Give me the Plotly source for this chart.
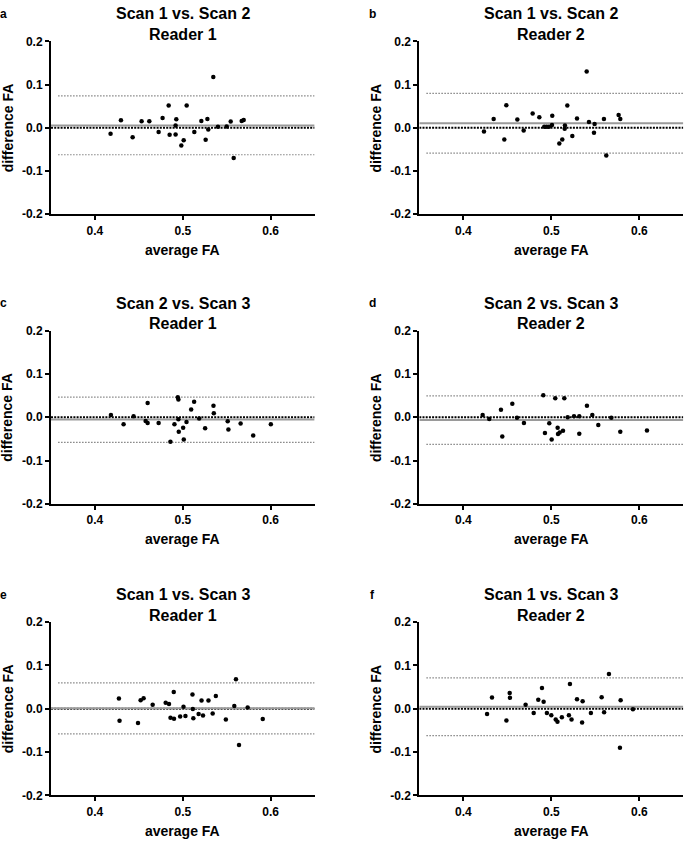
import plotly.graph_objects as go

# ---------------- data ----------------
a_x = [0.4178, 0.4296, 0.4429, 0.4531, 0.4619, 0.4725, 0.4770, 0.4839, 0.4850, 0.4918,
       0.4926, 0.4918, 0.4983, 0.5010, 0.5044, 0.5131, 0.5211, 0.5260, 0.5280, 0.5290,
       0.5347, 0.5400, 0.5499, 0.5545, 0.5579, 0.5670, 0.5693]
a_y = [-0.0137, 0.0175, -0.0220, 0.0152, 0.0152, -0.0099, 0.0228, 0.0517, -0.0160, 0.0053,
       0.0198, -0.0152, -0.0410, -0.0290, 0.0517, -0.0099, 0.0160, -0.0274, 0.0205, -0.0038,
       0.1179, 0.0023, 0.0030, 0.0144, -0.0700, 0.0160, 0.0183]

b_x = [0.4235, 0.4345, 0.4466, 0.4489, 0.4614, 0.4686, 0.4788, 0.4864, 0.4920, 0.4947,
       0.4973, 0.5011, 0.5008, 0.5091, 0.5125, 0.5155, 0.5152, 0.5182, 0.5239, 0.5292,
       0.5402, 0.5428, 0.5485, 0.5492, 0.5598, 0.5625, 0.5765, 0.5784]
b_y = [-0.0084, 0.0205, -0.0273, 0.0524, 0.0190, -0.0061, 0.0334, 0.0243, 0.0023, 0.0023,
       0.0023, 0.0281, 0.0068, -0.0364, -0.0273, 0.0053, -0.0023, 0.0516, -0.0190, 0.0213,
       0.1306, 0.0137, -0.0114, 0.0091, 0.0205, -0.0638, 0.0296, 0.0205]

c_x = [0.4182, 0.4326, 0.4440, 0.4577, 0.4600, 0.4600, 0.4725, 0.4859, 0.4905, 0.4943,
       0.4950, 0.4950, 0.4954, 0.5004, 0.5011, 0.5042, 0.5095, 0.5129, 0.5186, 0.5254,
       0.5349, 0.5353, 0.5511, 0.5519, 0.5658, 0.5801, 0.6002]
c_y = [0.0053, -0.0160, 0.0023, -0.0084, 0.0327, -0.0129, -0.0129, -0.0562, -0.0160, 0.0463,
       0.0410, -0.0046, -0.0334, -0.0243, -0.0509, -0.0106, 0.0182, 0.0357, -0.0030, -0.0251,
       0.0266, 0.0091, -0.0091, -0.0281, -0.0144, -0.0418, -0.0160]

d_x = [0.4220, 0.4295, 0.4428, 0.4443, 0.4557, 0.4610, 0.4689, 0.4909, 0.4928, 0.4977,
       0.5004, 0.5045, 0.5072, 0.5076, 0.5095, 0.5133, 0.5148, 0.5186, 0.5258, 0.5318,
       0.5318, 0.5405, 0.5466, 0.5534, 0.5682, 0.5784, 0.6087]
d_y = [0.0053, -0.0038, 0.0175, -0.0440, 0.0311, -0.0008, -0.0129, 0.0509, -0.0364, -0.0137,
       -0.0509, 0.0440, -0.0243, -0.0387, -0.0349, -0.0311, 0.0440, 0.0000, 0.0023, 0.0023,
       -0.0380, 0.0266, 0.0053, -0.0175, -0.0008, -0.0334, -0.0304]

e_x = [0.4273, 0.4280, 0.4490, 0.4520, 0.4554, 0.4657, 0.4805, 0.4843, 0.4860, 0.4897,
       0.4900, 0.4970, 0.5008, 0.5030, 0.5110, 0.5114, 0.5120, 0.5180, 0.5213, 0.5230,
       0.5292, 0.5340, 0.5376, 0.5490, 0.5586, 0.5605, 0.5640, 0.5738, 0.5910]
e_y = [0.0235, -0.0280, -0.0330, 0.0197, 0.0242, 0.0091, 0.0136, 0.0106, -0.0210, 0.0386,
       -0.0230, -0.0180, 0.0045, -0.0170, 0.0326, -0.0008, -0.0220, -0.0120, 0.0189, -0.0160,
       0.0189, -0.0110, 0.0295, -0.0250, 0.0061, 0.0682, -0.0840, 0.0030, -0.0240]

f_x = [0.4270, 0.4326, 0.4490, 0.4527, 0.4530, 0.4708, 0.4800, 0.4852, 0.4894, 0.4913,
       0.4950, 0.5000, 0.5050, 0.5070, 0.5120, 0.5200, 0.5212, 0.5230, 0.5292, 0.5350,
       0.5356, 0.5450, 0.5572, 0.5600, 0.5655, 0.5780, 0.5788, 0.5928]
f_y = [-0.0120, 0.0258, -0.0270, 0.0364, 0.0250, 0.0091, -0.0100, 0.0205, 0.0477, 0.0159,
       -0.0100, -0.0150, -0.0250, -0.0300, -0.0200, -0.0150, 0.0568, -0.0250, 0.0220, -0.0320,
       0.0174, -0.0100, 0.0265, -0.0080, 0.0803, -0.0900, 0.0197, -0.0015]

# bias (mean difference) and limits of agreement per panel
bias = [0.0053, 0.0106, -0.0053, -0.0061, 0.0008, 0.0045]
loa_upper = [0.0738, 0.0797, 0.0463, 0.0494, 0.0598, 0.0712]
loa_lower = [-0.0624, -0.0585, -0.0577, -0.0623, -0.0580, -0.0622]

panel_letters = ["a", "b", "c", "d", "e", "f"]
title_line1 = ["Scan 1 vs. Scan 2", "Scan 1 vs. Scan 2", "Scan 2 vs. Scan 3",
               "Scan 2 vs. Scan 3", "Scan 1 vs. Scan 3", "Scan 1 vs. Scan 3"]
title_line2 = ["Reader 1", "Reader 2", "Reader 1", "Reader 2", "Reader 1", "Reader 2"]
x_ticks = [0.4, 0.5, 0.6]
x_ticktext = ["0.4", "0.5", "0.6"]
y_ticks = [-0.2, -0.1, 0.0, 0.1, 0.2]
y_ticktext = ["-0.2", "-0.1", "0.0", "0.1", "0.2"]
x_title = "average FA"
y_title = "difference FA"

xs = [a_x, b_x, c_x, d_x, e_x, f_x]
ys = [a_y, b_y, c_y, d_y, e_y, f_y]

# ---------------- layout geometry (pixels) ----------------
W, H = 685, 846
FONT = "Liberation Sans, Arial, Helvetica, sans-serif"
col_x = [(51.0, 314.6), (419.3, 683.3)]
row_y = [(35.0, 210.7), (329.0, 505.4), (625.4, 801.6)]

fig = go.Figure()
ann = []
layout_axes = {}

def fx(px):
    return px / W

def fy(py):
    return 1 - py / H

for i in range(6):
    r, c = divmod(i, 2)
    x0, x1 = col_x[c]
    y0, y1 = row_y[r]
    sfx = "" if i == 0 else str(i + 1)
    xref = "x" + sfx
    yref = "y" + sfx

    # zero line (black dotted)
    fig.add_trace(go.Scatter(x=[0.35, 0.65], y=[0, 0], mode="lines",
                             line=dict(color="black", width=2, dash="2px,1.2px"),
                             xaxis=xref, yaxis=yref, showlegend=False, hoverinfo="skip"))
    # limits of agreement (grey dotted)
    for v in (loa_upper[i], loa_lower[i]):
        fig.add_trace(go.Scatter(x=[0.358, 0.65], y=[v, v], mode="lines",
                                 line=dict(color="#8c8c8c", width=1.2, dash="1.6px,1.4px"),
                                 xaxis=xref, yaxis=yref, showlegend=False, hoverinfo="skip"))
    # bias (grey solid)
    fig.add_trace(go.Scatter(x=[0.35, 0.65], y=[bias[i], bias[i]], mode="lines",
                             line=dict(color="#9a9a9a", width=2),
                             xaxis=xref, yaxis=yref, showlegend=False, hoverinfo="skip"))
    # points
    fig.add_trace(go.Scatter(x=xs[i], y=ys[i], mode="markers",
                             marker=dict(color="black", size=4.5),
                             xaxis=xref, yaxis=yref, showlegend=False))

    layout_axes["xaxis" + sfx] = dict(
        domain=[fx(x0), fx(x1)], range=[0.35, 0.65], anchor=yref,
        tickvals=x_ticks, ticktext=x_ticktext, showgrid=False, zeroline=False,
        showline=True, linecolor="black", linewidth=2, ticks="outside",
        ticklen=4, tickwidth=2, tickcolor="black",
        tickfont=dict(family=FONT, size=12, color="black", weight="bold"))
    layout_axes["yaxis" + sfx] = dict(
        domain=[fy(y1), fy(y0)], range=[-0.2, 0.2], anchor=xref,
        tickvals=y_ticks, ticktext=y_ticktext, showgrid=False, zeroline=False,
        showline=True, linecolor="black", linewidth=2, ticks="outside",
        ticklen=4, tickwidth=2, tickcolor="black",
        tickfont=dict(family=FONT, size=12, color="black", weight="bold"))

    cx = (x0 + x1) / 2
    bold16 = dict(family=FONT, size=16, color="black", weight="bold")
    bold14 = dict(family=FONT, size=14, color="black", weight="bold")
    ann.append(dict(text=title_line1[i], x=fx(cx), y=fy(y0 - 28), xref="paper", yref="paper",
                    showarrow=False, font=bold16, xanchor="center", yanchor="middle"))
    ann.append(dict(text=title_line2[i], x=fx(cx), y=fy(y0 - 7), xref="paper", yref="paper",
                    showarrow=False, font=bold16, xanchor="center", yanchor="middle"))
    ann.append(dict(text=x_title, x=fx(cx), y=fy(y1 + 36), xref="paper", yref="paper",
                    showarrow=False, font=bold14, xanchor="center", yanchor="middle"))
    ann.append(dict(text=y_title, x=fx(x0 - 43.5), y=fy((y0 + y1) / 2), xref="paper",
                    yref="paper", showarrow=False, font=bold14, textangle=-90,
                    xanchor="center", yanchor="middle"))
    ann.append(dict(text=panel_letters[i], x=fx(x0 - 47), y=fy(y0 - 28), xref="paper",
                    yref="paper", showarrow=False,
                    font=dict(family=FONT, size=12, color="black", weight="bold"),
                    xanchor="center", yanchor="middle"))

fig.update_layout(width=W, height=H, margin=dict(l=0, r=0, t=0, b=0),
                  paper_bgcolor="white", plot_bgcolor="white",
                  annotations=ann, showlegend=False, **layout_axes)

fig.write_html("out.html", config={"displayModeBar": False},
               post_script="document.body.style.margin='0';"
                           "document.body.style.overflow='hidden';")
